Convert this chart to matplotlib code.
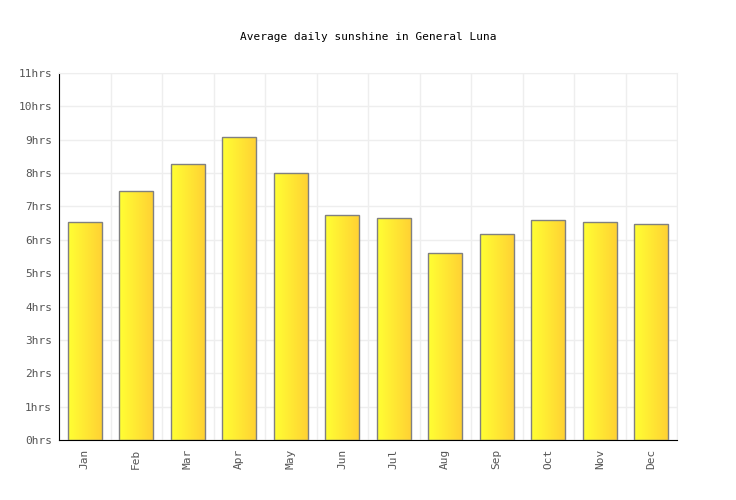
import matplotlib
matplotlib.use("Agg")
import matplotlib.pyplot as plt
import numpy as np
from matplotlib.colors import LinearSegmentedColormap

months = ["Jan", "Feb", "Mar", "Apr", "May", "Jun", "Jul", "Aug", "Sep", "Oct", "Nov", "Dec"]
sunshine = [6.53, 7.45, 8.26, 9.07, 7.99, 6.74, 6.64, 5.60, 6.17, 6.59, 6.53, 6.47]
yticks = list(range(0, 12))
ytick_labels = [f"{v}hrs" for v in yticks]
title = "Average daily sunshine in General Luna"

plt.rcParams['font.family'] = ['DejaVu Sans Mono']

fig = plt.figure(figsize=(7.36, 5.0), dpi=100)
ax = fig.add_axes([59/736, 60/500, 618/736, 367/500])

x = np.arange(len(months))
bars = ax.bar(x, sunshine, width=0.66, facecolor='none', edgecolor='#808080', linewidth=1.0, zorder=3)

cmap = LinearSegmentedColormap.from_list('sun', ['#ffff33', '#ffd233'])
grad = np.linspace(0, 1, 64).reshape(1, -1)
for b in bars:
    x0 = b.get_x()
    w = b.get_width()
    h = b.get_height()
    ax.imshow(grad, cmap=cmap, aspect='auto', extent=(x0, x0 + w, 0, h), zorder=2, interpolation='bilinear')

ax.set_xlim(-0.5, len(months) - 0.5)
ax.set_ylim(0, 11)
ax.set_yticks(yticks)
ax.set_yticklabels(ytick_labels)
ax.set_xticks(x)
ax.set_xticklabels(months, rotation=90)
ax.set_xticks(np.arange(-0.5, len(months), 1), minor=True)

ax.grid(False)
ax.yaxis.grid(True, color='#eeeeee', linewidth=1, zorder=0)
ax.xaxis.grid(True, which='minor', color='#eeeeee', linewidth=1, zorder=0)
ax.set_axisbelow(True)

ax.spines['top'].set_color('#eeeeee')
ax.spines['right'].set_color('#eeeeee')
ax.spines['left'].set_color('black')
ax.spines['bottom'].set_color('black')
ax.tick_params(axis='both', which='both', length=0, labelsize=8, labelcolor='#555555')
ax.tick_params(axis='y', pad=5)
ax.tick_params(axis='x', pad=6)

fig.text(0.5, 1 - 37/500, title, ha='center', va='center', fontsize=8, color='black')

fig.savefig('out.png', dpi=100)
